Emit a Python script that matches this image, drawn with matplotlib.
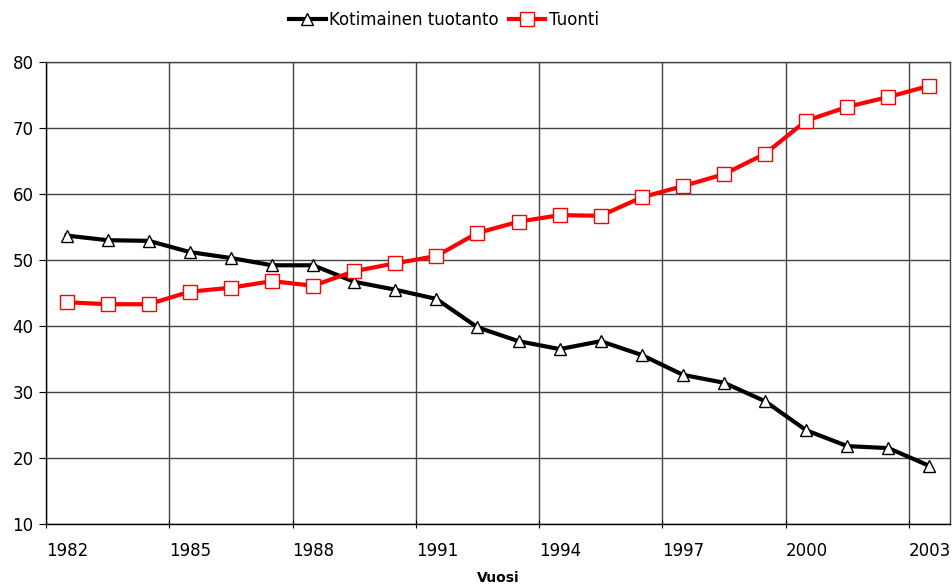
import matplotlib
matplotlib.use("Agg")
import matplotlib.pyplot as plt
import numpy as np

years = list(range(1982, 2004))
kotimainen = [53.7, 53.0, 52.9, 51.2, 50.3, 49.2, 49.2, 46.7, 45.5, 44.1, 39.8,
              37.7, 36.5, 37.7, 35.6, 32.6, 31.4, 28.6, 24.2, 21.8, 21.5, 18.8]
tuonti = [43.6, 43.3, 43.3, 45.2, 45.8, 46.8, 46.1, 48.3, 49.5, 50.6, 54.1,
          55.8, 56.8, 56.7, 59.5, 61.2, 63.0, 66.1, 71.1, 73.2, 74.7, 76.4]
tick_years = [1982, 1985, 1988, 1991, 1994, 1997, 2000, 2003]

plt.rcParams['font.family'] = ['DejaVu Sans']

fig = plt.figure(figsize=(9.52, 5.87), dpi=100)
ax = fig.add_axes([46/952, 1 - 524/587, 904/952, 462/587])

x = np.arange(len(years)) + 0.5
ax.plot(x, kotimainen, color="black", lw=3.0, marker="^", ms=9,
        mfc="white", mec="black", mew=1.0, label="Kotimainen tuotanto", zorder=3)
ax.plot(x, tuonti, color="red", lw=3.0, marker="s", ms=10,
        mfc="white", mec="red", mew=1.0, label="Tuonti", zorder=3)

ax.set_xlim(0, len(years))
ax.set_ylim(10, 80)
ax.set_yticks(range(10, 81, 10))
tick_pos = [years.index(y) for y in tick_years]
ax.set_xticks(tick_pos)
ax.set_xticklabels([str(y) for y in tick_years], ha="left", fontsize=12)
ax.tick_params(axis="x", length=6, pad=10, direction="inout")
ax.tick_params(axis="y", labelsize=12, length=5, pad=4, direction="out")
ax.grid(True, color="#444444", lw=1.0)
ax.set_axisbelow(True)
for s in ax.spines.values():
    s.set_color("#444444")
    s.set_linewidth(1.0)
ax.spines["bottom"].set_color("black")
ax.spines["left"].set_color("black")

fig.text(498/952, 2/587, "Vuosi", ha="center", va="bottom",
         fontsize=10, fontweight="bold")

ax.legend(loc="center", bbox_to_anchor=(0.44, 1.091), ncol=2,
          frameon=False, fontsize=12, handlelength=2.2, handletextpad=0.2,
          columnspacing=0.6, borderaxespad=0)

fig.savefig("out.png", dpi=100)
